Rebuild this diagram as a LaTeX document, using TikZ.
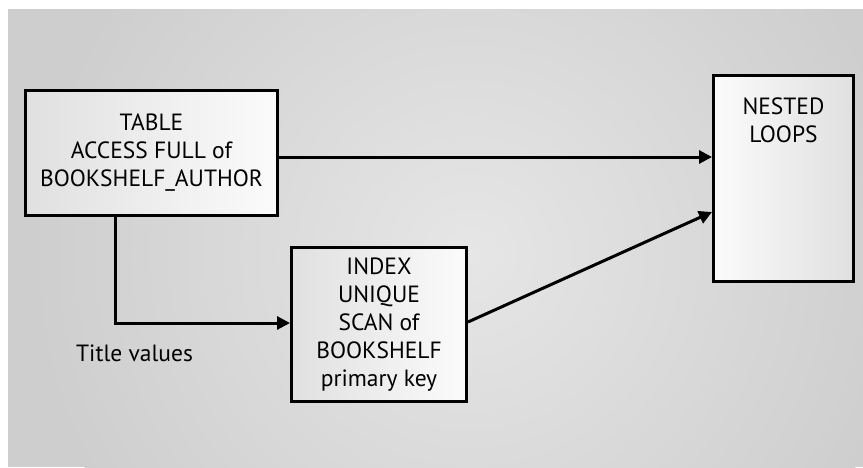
\documentclass[tikz,border=0pt]{standalone}
\usepackage{fontspec}
\setmainfont{PT Sans}
\usetikzlibrary{arrows.meta}

\definecolor{bgedge}{HTML}{CECECE}
\definecolor{bgmid}{HTML}{E6E6E6}
\definecolor{boxlight}{HTML}{FBFBFB}
\definecolor{boxdark}{HTML}{E0E0E0}

\tikzset{
  opbox/.style={draw=black, line width=3pt, rectangle, inner sep=0pt,
    align=center, font=\fontsize{23.5}{28}\selectfont},
  fadeleft/.style={left color=boxdark, right color=boxlight},
  faderight/.style={left color=boxlight, right color=boxdark},
  flow/.style={draw=black, line width=3pt,
    -{Triangle[length=13pt,width=13pt]}},
  caption/.style={inner sep=0pt, font=\fontsize{23.5}{28}\selectfont}
}

\begin{document}
\begin{tikzpicture}[x=1pt, y=-1pt]
  \useasboundingbox (0,0) rectangle (863,467);

  % lit grey backdrop
  \begin{scope}
    \clip (8,9) rectangle (863,467);
    \fill[bgedge] (8,9) rectangle (863,467);
    \shade[inner color=bgmid, outer color=bgedge] (470,255) circle (440);
  \end{scope}

  % operation boxes
  \node[opbox, fadeleft, minimum width=252pt, minimum height=125pt]
    (full) at (151.5,153) {TABLE\\ACCESS FULL of\\BOOKSHELF\_AUTHOR};
  \node[opbox, fadeleft, minimum width=175pt, minimum height=154pt]
    (scan) at (379,324.5) {INDEX\\UNIQUE\\SCAN of\\BOOKSHELF\\primary key};
  \node[opbox, faderight, minimum width=140pt, minimum height=206pt,
    label={[name=nestedtext, anchor=north, yshift=-20pt, align=center,
      font=\fontsize{23.5}{28}\selectfont]north:NESTED\\LOOPS}]
    (nested) at (783.5,178.5) {};

  % row sources feeding the join
  \draw[flow] ([yshift=-4pt]full.east) coordinate (fe) -- (fe -| nested.west);
  \draw[flow] ([yshift=2.5pt]scan.east) -- ([yshift=-33.5pt]nested.west);
  \draw[flow] ([xshift=-36.5pt]full.south) |- ([yshift=1.5pt]scan.west);

  \node[caption, anchor=base west] (titles) at (76,361) {Title values};
\end{tikzpicture}
\end{document}
